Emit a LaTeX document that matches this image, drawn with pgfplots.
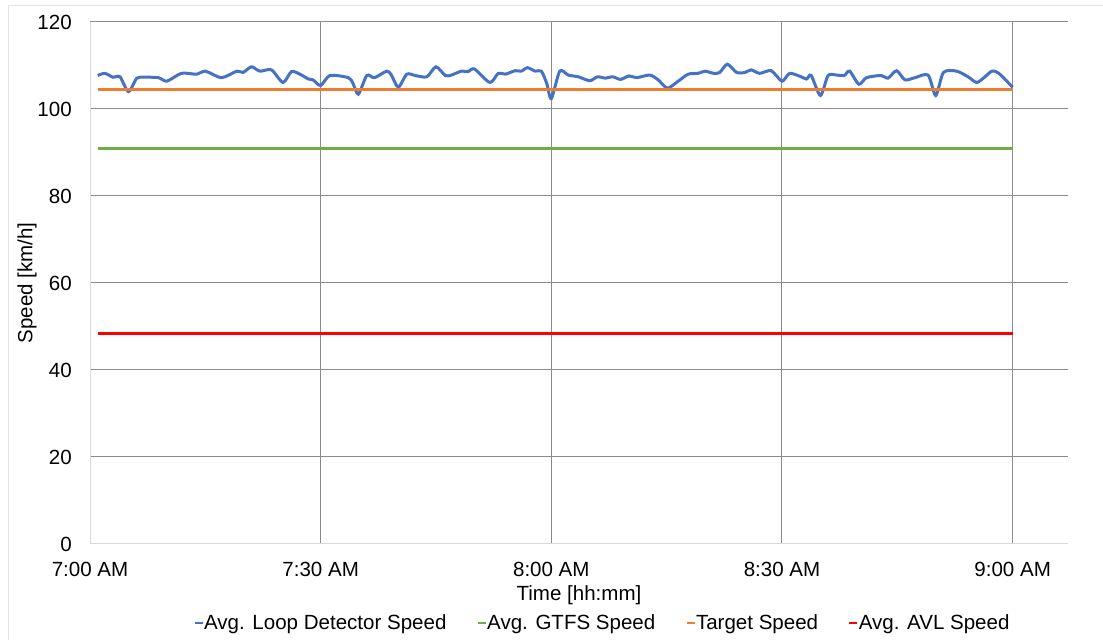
\documentclass[border=0pt]{standalone}
\usepackage{pgfplots}
\pgfplotsset{compat=1.18}
\usepackage{fontspec}
\setmainfont{Liberation Sans}
\definecolor{cblue}{HTML}{4472C4}
\definecolor{corange}{HTML}{ED7D31}
\definecolor{cgreen}{HTML}{70AD47}
\definecolor{cred}{HTML}{FF0000}
\definecolor{gridgray}{HTML}{8C8C8C}
\definecolor{axgray}{HTML}{D9D9D9}
\definecolor{framegray}{HTML}{E6E6E6}
\begin{document}
\begin{tikzpicture}[x=0.75pt,y=0.75pt]
\useasboundingbox (0,0) rectangle (1103,639);
\draw[framegray, line width=0.75pt] (8,-10) -- (8,633) -- (1120,633);
\begin{axis}[
  at={(67.5pt,71.25pt)}, anchor=south west,
  scale only axis, width=733.5pt, height=391.5pt,
  font=\fontsize{15.4}{18}\selectfont,
  /pgf/number format/assume math mode=true,
  xmin=0, xmax=127.2, ymin=0, ymax=120,
  axis x line*=bottom, axis y line*=left,
  axis line style={draw=axgray, line width=0.75pt, -},
  major tick length=0pt,
  xtick={30,60,90,120},
  xticklabels={7:30 AM,8:00 AM,8:30 AM,9:00 AM},
  extra x ticks={0}, extra x tick labels={7:00 AM},
  extra x tick style={grid=none},
  ytick={20,40,...,120},
  extra y ticks={0}, extra y tick style={grid=none},
  grid=major,
  major grid style={draw=gridgray, line width=0.75pt},
  xticklabel style={inner sep=0pt, anchor=north},
  xticklabel shift=13.3pt,
  yticklabel style={inner sep=0pt, anchor=east},
  yticklabel shift=13.5pt,
  xlabel={Time [hh:mm]},
  ylabel={Speed [km/h]},
  xlabel style={at={(axis description cs:0.5,-0.0977)}, anchor=center, inner sep=0pt},
  ylabel style={at={(axis description cs:-0.0644,0.5)}, anchor=center, inner sep=0pt},
  legend columns=4,
  legend image code/.code={\draw[#1, line width=2pt] (0pt,0pt) -- (6pt,0pt);},
  legend style={draw=none, fill=none, at={(axis description cs:0.523,-0.1513)}, anchor=center,
    font=\fontsize{15.4}{18}\selectfont, inner sep=0pt,
    nodes={inner xsep=0pt, inner ysep=0.5pt},
    /tikz/every even column/.append style={column sep=22.5pt}},
]
\addplot[cblue, line width=2.25pt, smooth, tension=0.45] coordinates {
(1.0,107.7) (1.95,108.2) (3.0,107.3) (3.9,107.4) (5.0,104.0) (6.1,107.1) (7.15,107.3) (8.9,107.2) (10.0,106.4) (11.9,108.2)
(13.9,108.0) (15.0,108.7) (17.1,107.2) (19.1,108.7) (19.9,108.4) (21.0,109.7) (22.1,108.7) (23.6,109.0) (25.1,106.1) (26.2,108.6)
(27.3,108.0) (28.4,106.9) (29.0,106.7) (30.0,105.4) (31.2,107.7) (33.6,107.2) (34.2,105.9) (34.9,103.4) (36.0,107.7) (37.0,107.2)
(38.6,108.7) (39.2,107.8) (40.1,105.0) (41.2,108.0) (42.3,107.7) (43.8,107.4) (45.0,109.7) (46.2,107.7) (47.0,107.8) (48.3,108.7)
(49.2,108.6) (50.0,109.2) (52.0,106.1) (53.1,108.2) (54.0,108.0) (55.3,108.8) (56.1,108.7) (56.9,109.5) (57.9,108.7) (58.7,108.7)
(59.4,105.9) (60.0,102.4) (61.1,108.7) (62.2,107.8) (63.5,107.4) (65.0,106.5) (66.0,107.4) (67.0,107.1) (68.0,107.4) (69.0,106.8)
(70.1,107.6) (71.1,107.2) (72.8,107.8) (73.9,106.7) (75.1,104.8) (76.5,106.4) (77.8,108.0) (79.1,108.2) (80.0,108.7) (81.1,108.2)
(81.9,108.4) (82.9,110.3) (84.1,108.4) (85.2,108.4) (86.0,109.0) (87.1,108.2) (88.6,108.8) (90.0,106.4) (91.0,108.2) (92.5,107.4)
(93.2,106.9) (93.8,107.7) (95.0,103.1) (96.0,107.7) (97.1,107.8) (98.1,107.7) (98.8,108.7) (100.0,105.7) (101.0,107.2) (102.9,107.7)
(103.8,107.1) (104.9,108.8) (106.0,106.7) (107.3,107.2) (109.0,107.8) (110.0,103.1) (111.0,108.4) (112.7,108.7) (114.2,107.4) (115.3,106.1)
(116.2,107.1) (117.3,108.7) (118.2,108.2) (120.0,105.0)
};
\addlegendentry{Avg. Loop Detector Speed}
\addplot[cgreen, line width=2.25pt] coordinates {(1,91.0) (120,91.0)};
\addlegendentry{Avg. GTFS Speed}
\addplot[corange, line width=2.25pt] coordinates {(1,104.5) (120,104.5)};
\addlegendentry{Target Speed}
\addplot[cred, line width=2.25pt] coordinates {(1,48.3) (120,48.3)};
\addlegendentry{Avg. AVL Speed}
\end{axis}
\end{tikzpicture}
\end{document}
